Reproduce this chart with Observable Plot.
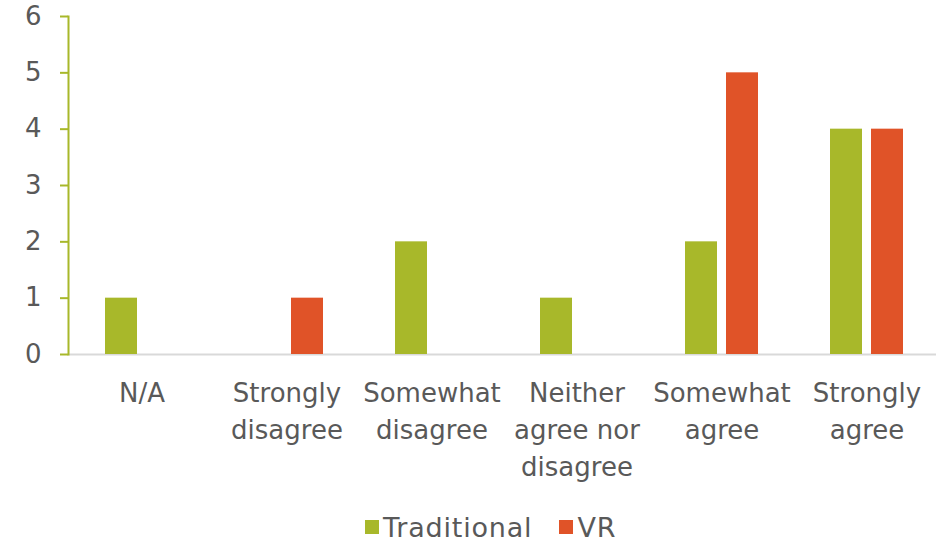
<!DOCTYPE html>
<html>
<head>
<meta charset="utf-8">
<script src="https://cdn.jsdelivr.net/npm/d3@7"></script>
<script src="https://cdn.jsdelivr.net/npm/@observablehq/plot@0.6"></script>
<style>
  html, body { margin: 0; padding: 0; background: #fff; }
  #chart { width: 936px; font-family: "DejaVu Sans", sans-serif; }
  .legend { display: flex; justify-content: flex-start; gap: 27px; padding-left: 365px; font-size: 27px; letter-spacing: 0.8px; color: #595959; height: 44px; align-items: center; padding-top: 9px; }
  .legend span.sw { display: inline-block; width: 14px; height: 14px; margin-right: 4px; }
  .legend div { display: flex; align-items: center; }
</style>
</head>
<body>
<div id="chart"></div>
<script>
const categories = ["N/A", "Strongly\ndisagree", "Somewhat\ndisagree", "Neither\nagree nor\ndisagree", "Somewhat\nagree", "Strongly\nagree"];
const series = ["Traditional", "VR"];
const traditional = [1, 0, 2, 1, 2, 4];
const vr = [0, 1, 0, 0, 5, 4];
const colors = ["#a8b82a", "#e05328"];
const yTicks = [0, 1, 2, 3, 4, 5, 6];

const data = categories.flatMap((c, i) => [
  {category: c, series: series[0], value: traditional[i]},
  {category: c, series: series[1], value: vr[i]}
]).filter(d => d.value > 0);

const grey = "#595959";
const plot = Plot.plot({
  width: 936,
  height: 496,
  marginLeft: 68,
  marginRight: -4,
  marginTop: 16,
  marginBottom: 142,
  style: {fontFamily: "'DejaVu Sans', sans-serif", fontSize: "26px", color: grey, background: "#fff", overflow: "hidden"},
  x: {domain: categories, paddingInner: 0, paddingOuter: 0, axis: null},
  y: {domain: [0, 6], axis: null},
  color: {domain: series, range: colors},
  marks: [
    Plot.ruleY([0], {stroke: "#d9d9d9", strokeWidth: 2}),
    Plot.barY(data.filter(d => d.series === series[0]), {x: "category", y: "value", fill: "series", insetLeft: 36, insetRight: 77}),
    Plot.barY(data.filter(d => d.series === series[1]), {x: "category", y: "value", fill: "series", insetLeft: 77, insetRight: 36}),
    Plot.frame({anchor: "left", stroke: "#a8b82a", strokeWidth: 2}),
    Plot.axisY(yTicks, {tickSize: 8, tickPadding: 19, tickFormat: "d", stroke: "#a8b82a", strokeWidth: 2, fill: grey, fontSize: 26, label: null}),
    Plot.axisX({tickSize: 0, tickPadding: 21, fill: grey, fontSize: 26, lineHeight: 1.42, lineAnchor: "top", label: null})
  ]
});
const chart = document.getElementById("chart");
chart.appendChild(plot);
const legend = document.createElement("div");
legend.className = "legend";
series.forEach((s, i) => {
  const item = document.createElement("div");
  const sw = document.createElement("span");
  sw.className = "sw";
  sw.style.background = colors[i];
  item.appendChild(sw);
  item.appendChild(document.createTextNode(s));
  legend.appendChild(item);
});
chart.appendChild(legend);
</script>
</body>
</html>
